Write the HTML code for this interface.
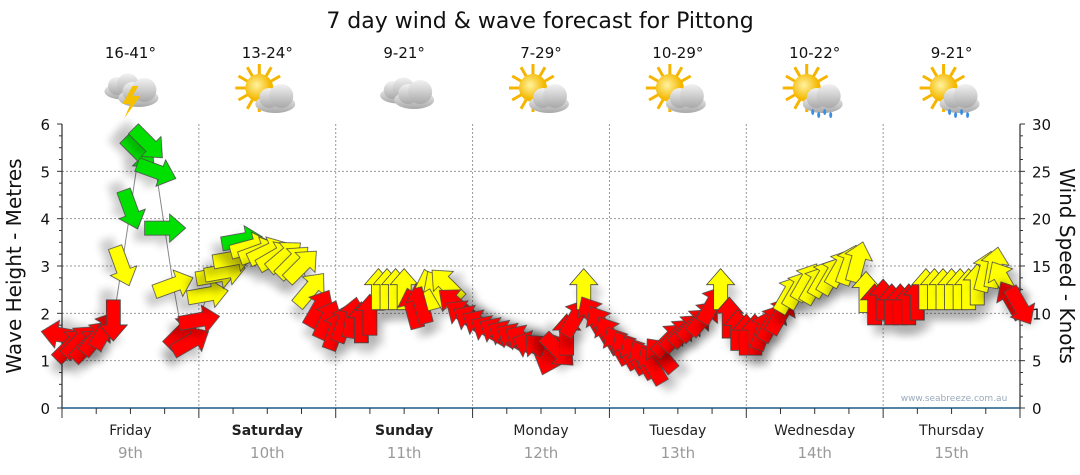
<!DOCTYPE html>
<html><head><meta charset="utf-8"><style>
body{margin:0;background:#fff;}
svg{display:block;font-family:"DejaVu Sans","Liberation Sans",sans-serif;}
</style></head><body>
<svg id="chart" width="1080" height="475" viewBox="0 0 1080 475">
<defs>
<filter id="sh" x="-50%" y="-50%" width="200%" height="200%"><feGaussianBlur in="SourceAlpha" stdDeviation="4"/><feOffset dx="6" dy="10"/><feComponentTransfer><feFuncA type="linear" slope="0.2"/></feComponentTransfer><feMerge><feMergeNode/><feMergeNode in="SourceGraphic"/></feMerge></filter>
<radialGradient id="sun" cx="0.4" cy="0.4"><stop offset="0" stop-color="#fff3a0"/><stop offset="1" stop-color="#f5b800"/></radialGradient>
<linearGradient id="cloud" x1="0" y1="0" x2="0" y2="1"><stop offset="0" stop-color="#f2f2f2"/><stop offset="1" stop-color="#a8a8a8"/></linearGradient>
</defs>
<text x="540" y="28" font-size="22" text-anchor="middle" fill="#111">7 day wind &amp; wave forecast for Pittong</text>
<g id="grid"></g>
<g id="axes"></g>
<g id="icons"></g>
<g id="series"></g>
<text x="954" y="401" font-size="9" text-anchor="middle" fill="#9aaabb">www.seabreeze.com.au</text>
<text transform="translate(21,266) rotate(-90)" font-size="20" text-anchor="middle" fill="#111">Wave Height - Metres</text>
<text transform="translate(1060,266) rotate(90)" font-size="20" text-anchor="middle" fill="#111">Wind Speed - Knots</text>
</svg>
<script>
const days=["Friday","Saturday","Sunday","Monday","Tuesday","Wednesday","Thursday"];
const dates=["9th","10th","11th","12th","13th","14th","15th"];
const boldDays=[false,true,true,false,false,false,false];
const temps=["16-41°","13-24°","9-21°","7-29°","10-29°","10-22°","9-21°"];
const icons=["storm","suncloud","cloud","suncloud","suncloud","rain","rain"];
const leftTicks=[0,1,2,3,4,5,6];
const rightTicks=[0,5,10,15,20,25,30];
// wind speed (knots) every 1.5 h, 16 per day
const windSpeed=[
7.7,6.6,7,6.6,7.4,8.2,9.3,15,21,27,28,25,19,13,8,7,
9.3,12,14,14.4,15.8,17.7,17,16.5,16.5,16,16,15.4,15,12.5,10.5,9.3,
8.2,9,9.5,9,9.8,12.5,12.5,12.5,12.5,10.5,11,12.5,12.5,13,11,9.8,
9.3,8.8,8.2,8,7.7,7.4,7.2,6.6,6.1,5.6,6.1,7.7,9.5,12.5,9.8,8.8,
7.7,6.6,6.1,5.6,5.1,4.5,5.6,7.2,7.7,8.2,8.8,9.5,10.9,12.5,9.5,8.2,
7.7,7.7,8.2,9,9.8,12,12.5,13.3,13,13.7,14,14.8,15.1,15.4,12.2,10.9,
11.4,10.9,10.9,10.9,11.4,12.5,12.5,12.5,12.5,12.5,12.5,13,14.4,14.8,13.5,11.4,10.8];
// arrow pointing direction (deg, 0 = up, clockwise)
const windDir=[
280,45,45,45,40,30,180,160,160,135,135,110,90,70,45,60,
80,80,80,80,80,80,75,70,65,60,50,45,45,40,30,25,
20,20,10,0,0,0,0,0,0,345,345,345,330,315,310,305,
300,300,300,300,300,300,300,290,315,200,135,0,30,0,330,330,
330,330,330,330,330,330,320,45,45,45,45,40,30,0,0,0,
0,0,20,30,30,30,30,30,30,30,30,30,20,15,0,0,
0,0,0,0,0,0,0,0,0,0,0,0,15,10,330,330,150];

const X0=62,X1=1020,Y0=408,Y1=124,DAYW=(X1-X0)/7,STEP=1.5;
const xT=h=>X0+h/24*DAYW;
const yM=m=>Y0-(m/6)*(Y0-Y1);
const yK=k=>Y0-(k/30)*(Y0-Y1);
const NS="http://www.w3.org/2000/svg";
function mk(tag,attrs,parent){const e=document.createElementNS(NS,tag);for(const k in attrs)e.setAttribute(k,attrs[k]);parent.appendChild(e);return e;}
const grid=document.getElementById('grid'),axes=document.getElementById('axes'),ic=document.getElementById('icons'),ser=document.getElementById('series');

leftTicks.forEach(v=>{if(v>0&&v<6){const l=mk('line',{x1:X0,x2:X1,y1:yM(v),y2:yM(v),stroke:'#999','stroke-dasharray':'2,2','stroke-width':1},grid);

}});
for(let d=1;d<7;d++){const l=mk('line',{x1:X0+d*DAYW,x2:X0+d*DAYW,y1:Y1,y2:Y0,stroke:'#999','stroke-dasharray':'2,2'},grid);

}

mk('line',{x1:X0,x2:X0,y1:Y1,y2:Y0,stroke:'#000'},axes);
mk('line',{x1:X1,x2:X1,y1:Y1,y2:Y0+4,stroke:'#000'},axes);
for(let i=0;i<=24;i++){const v=i*0.25,y=yM(v),maj=i%4==0;
mk('line',{x1:X0-(maj?5:3),x2:X0,y1:y,y2:y,stroke:'#333'},axes);
mk('line',{x1:X1,x2:X1+(maj?5:3),y1:y,y2:y,stroke:'#333'},axes);}
leftTicks.forEach(v=>{const t=mk('text',{x:X0-12,y:yM(v)+6,'font-size':15,'text-anchor':'end',fill:'#111'},axes);t.textContent=v;

});
rightTicks.forEach(v=>{const t=mk('text',{x:X1+12,y:yK(v)+6,'font-size':15,fill:'#111'},axes);t.textContent=v;

});
mk('line',{x1:X0,x2:X1,y1:Y0,y2:Y0,stroke:'#1f5a85','stroke-width':1.5},axes);
for(let i=0;i<=28;i++){const x=X0+i*DAYW/4;mk('line',{x1:x,x2:x,y1:Y0,y2:Y0+(i%4==0?10:6),stroke:'#333'},axes);}
days.forEach((d,i)=>{const cx=X0+(i+0.5)*DAYW;
const t=mk('text',{x:cx,y:435,'font-size':14,'text-anchor':'middle',fill:'#222','font-weight':boldDays[i]?'bold':'normal'},axes);t.textContent=d;


const t2=mk('text',{x:cx,y:458,'font-size':15,'text-anchor':'middle',fill:'#999'},axes);t2.textContent=dates[i];


const t3=mk('text',{x:cx,y:58,'font-size':15,'text-anchor':'middle',fill:'#111'},ic);t3.textContent=temps[i];


const g=mk('g',{transform:`translate(${cx},92)`},ic);


const cloud=(dx,dy,s)=>{mk('ellipse',{cx:dx,cy:dy+6*s,rx:20*s,ry:9*s,fill:'url(#cloud)'},g);mk('circle',{cx:dx-6*s,cy:dy,r:10*s,fill:'url(#cloud)'},g);mk('circle',{cx:dx+6*s,cy:dy-2*s,r:12*s,fill:'url(#cloud)'},g);};
const sun=(dx,dy)=>{for(let a=0;a<360;a+=30){const r=a*Math.PI/180;mk('line',{x1:dx+Math.cos(r)*12,y1:dy+Math.sin(r)*12,x2:dx+Math.cos(r)*24,y2:dy+Math.sin(r)*24,stroke:'#f5b400','stroke-width':3},g);}mk('circle',{cx:dx,cy:dy,r:14,fill:'url(#sun)'},g);};
if(icons[i]=='storm'){cloud(-8,-6,0.9);cloud(8,0,1);mk('polygon',{points:'2,-6 -8,12 0,12 -6,26 10,4 2,4 8,-6',fill:'#f5c000'},g);}
else if(icons[i]=='cloud'){cloud(-6,-2,0.9);cloud(10,2,1);}
else{sun(-8,-4);cloud(8,6,1);if(icons[i]=='rain'){for(let k=0;k<4;k++)mk('ellipse',{cx:-2+k*6,cy:20+(k%2)*3,rx:1.5,ry:3,fill:'#3a8ee0'},g);}}
});

// connecting line
const pts=windSpeed.map((v,i)=>xT(i*STEP)+','+yK(v)).join(' ');
const pl=mk('polyline',{points:pts,fill:'none',stroke:'#888','stroke-width':1},ser);


const ap='0,-21 14,-5 7,-5 7,20 -7,20 -7,-5 -14,-5';
windSpeed.forEach((v,i)=>{
const col=v>=17.5?'#00e000':(v>=12?'#ffff00':'#ff0000');
const a=mk('polygon',{points:ap,fill:col,stroke:'#444','stroke-width':0.8,filter:'url(#sh)',transform:`translate(${xT(i*STEP)},${yK(v)}) rotate(${windDir[i]})`},ser);


});
</script>
</body></html>
